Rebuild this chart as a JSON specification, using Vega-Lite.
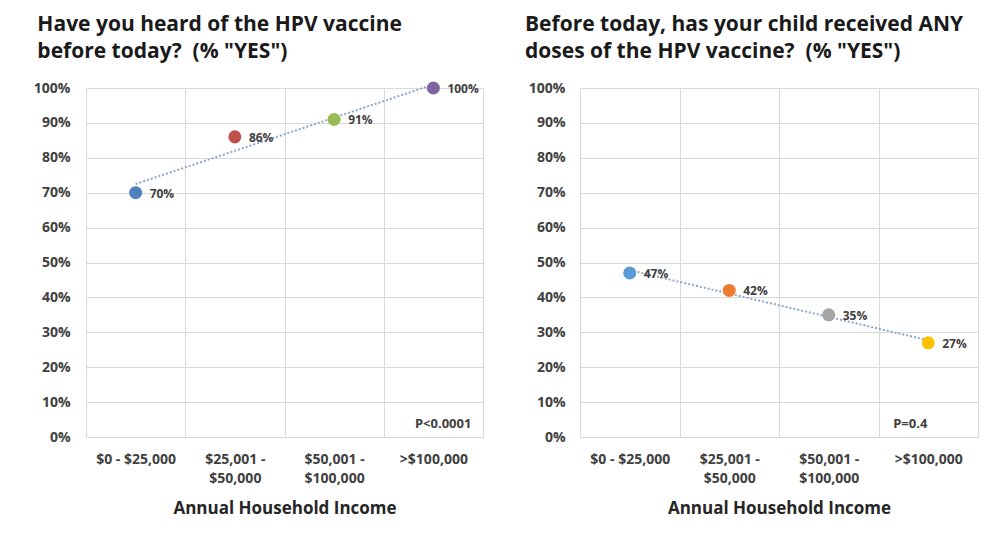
{
  "$schema": "https://vega.github.io/schema/vega-lite/v6.json",
  "background": "white",
  "padding": {"left": 33, "top": 13, "right": 5, "bottom": 5},
  "spacing": 38,
  "config": {
    "font": "Open Sans",
    "view": {"stroke": null},
    "axis": {
      "labelFont": "Open Sans",
      "labelFontWeight": "bold",
      "labelColor": "#404040",
      "labelFontSize": 14,
      "gridColor": "#D9D9D9",
      "gridWidth": 1,
      "ticks": false,
      "domain": false,
      "titleFont": "Open Sans",
      "titleFontWeight": "bold",
      "titleColor": "#262626",
      "titleFontSize": 17
    },
    "title": {
      "font": "Open Sans",
      "fontSize": 21,
      "fontWeight": "bold",
      "color": "#1a1a1a",
      "anchor": "start",
      "frame": "bounds",
      "lineHeight": 27,
      "offset": 19,
      "dx": 4
    }
  },
  "datasets": {
    "heard": [
      {"income": "$0 - $25,000", "idx": 1, "pct": 0.70},
      {"income": "$25,001 - $50,000", "idx": 2, "pct": 0.86},
      {"income": "$50,001 - $100,000", "idx": 3, "pct": 0.91},
      {"income": ">$100,000", "idx": 4, "pct": 1.00}
    ],
    "doses": [
      {"income": "$0 - $25,000", "idx": 1, "pct": 0.47},
      {"income": "$25,001 - $50,000", "idx": 2, "pct": 0.42},
      {"income": "$50,001 - $100,000", "idx": 3, "pct": 0.35},
      {"income": ">$100,000", "idx": 4, "pct": 0.27}
    ]
  },
  "hconcat": [
    {
      "title": {"text": ["Have you heard of the HPV vaccine", "before today?\u00a0 (% \"YES\")"]},
      "width": 397,
      "height": 349,
      "data": {"name": "heard"},
      "encoding": {
        "x": {
          "field": "income", "type": "nominal",
          "scale": {"type": "band", "domain": ["$0 - $25,000", "$25,001 - $50,000", "$50,001 - $100,000", ">$100,000"], "paddingInner": 0, "paddingOuter": 0},
          "axis": {
            "grid": true, "tickBand": "extent", "labelAngle": 0, "labelPadding": 15, "labelLineHeight": 19,
            "labelExpr": "indexof(datum.label, ' - ') > 0 && datum.label != '$0 - $25,000' ? [split(datum.label, ' - ')[0] + ' -', split(datum.label, ' - ')[1]] : datum.label",
            "title": "Annual Household Income", "titlePadding": 15
          }
        },
        "y": {
          "field": "pct", "type": "quantitative",
          "scale": {"domain": [0, 1], "nice": false, "zero": true},
          "axis": {"values": [0, 0.1, 0.2, 0.3, 0.4, 0.5, 0.6, 0.7, 0.8, 0.9, 1], "format": ".0%", "grid": true, "title": null, "labelPadding": 16, "minExtent": 50, "maxExtent": 50}
        }
      },
      "layer": [
        {
          "transform": [
            {"regression": "pct", "on": "idx"},
            {"lookup": "idx", "from": {"data": {"name": "heard"}, "key": "idx", "fields": ["income"]}}
          ],
          "mark": {"type": "line", "color": "#8CA6C4", "strokeWidth": 2, "strokeDash": [2, 2]}
        },
        {
          "mark": {"type": "circle", "size": 170, "opacity": 1},
          "encoding": {
            "color": {"field": "income", "type": "nominal", "legend": null,
              "scale": {"domain": ["$0 - $25,000", "$25,001 - $50,000", "$50,001 - $100,000", ">$100,000"], "range": ["#4F81BD", "#C0504D", "#9BBB59", "#8064A2"]}}
          }
        },
        {
          "mark": {"type": "text", "align": "left", "baseline": "middle", "dx": 14, "dy": 1, "fontSize": 12, "fontWeight": "bold", "color": "#404040"},
          "encoding": {"text": {"field": "pct", "type": "quantitative", "format": ".0%"}}
        },
        {
          "data": {"values": [{"income": ">$100,000", "pct": 0.037, "note": "P<0.0001"}]},
          "mark": {"type": "text", "align": "right", "baseline": "middle", "dx": 38, "fontSize": 13, "fontWeight": "bold", "color": "#404040"},
          "encoding": {"text": {"field": "note", "type": "nominal"}}
        }
      ]
    },
    {
      "title": {"text": ["Before today, has your child received ANY", "doses of the HPV vaccine?\u00a0 (% \"YES\")"]},
      "width": 398,
      "height": 349,
      "data": {"name": "doses"},
      "encoding": {
        "x": {
          "field": "income", "type": "nominal",
          "scale": {"type": "band", "domain": ["$0 - $25,000", "$25,001 - $50,000", "$50,001 - $100,000", ">$100,000"], "paddingInner": 0, "paddingOuter": 0},
          "axis": {
            "grid": true, "tickBand": "extent", "labelAngle": 0, "labelPadding": 15, "labelLineHeight": 19,
            "labelExpr": "indexof(datum.label, ' - ') > 0 && datum.label != '$0 - $25,000' ? [split(datum.label, ' - ')[0] + ' -', split(datum.label, ' - ')[1]] : datum.label",
            "title": "Annual Household Income", "titlePadding": 15
          }
        },
        "y": {
          "field": "pct", "type": "quantitative",
          "scale": {"domain": [0, 1], "nice": false, "zero": true},
          "axis": {"values": [0, 0.1, 0.2, 0.3, 0.4, 0.5, 0.6, 0.7, 0.8, 0.9, 1], "format": ".0%", "grid": true, "title": null, "labelPadding": 15, "minExtent": 59, "maxExtent": 59}
        }
      },
      "layer": [
        {
          "transform": [
            {"regression": "pct", "on": "idx"},
            {"lookup": "idx", "from": {"data": {"name": "doses"}, "key": "idx", "fields": ["income"]}}
          ],
          "mark": {"type": "line", "color": "#8CA6C4", "strokeWidth": 2, "strokeDash": [2, 2]}
        },
        {
          "mark": {"type": "circle", "size": 170, "opacity": 1},
          "encoding": {
            "color": {"field": "income", "type": "nominal", "legend": null,
              "scale": {"domain": ["$0 - $25,000", "$25,001 - $50,000", "$50,001 - $100,000", ">$100,000"], "range": ["#5B9BD5", "#ED7D31", "#A5A5A5", "#FFC000"]}}
          }
        },
        {
          "mark": {"type": "text", "align": "left", "baseline": "middle", "dx": 14, "dy": 1, "fontSize": 12, "fontWeight": "bold", "color": "#404040"},
          "encoding": {"text": {"field": "pct", "type": "quantitative", "format": ".0%"}}
        },
        {
          "data": {"values": [{"income": ">$100,000", "pct": 0.037, "note": "P=0.4"}]},
          "mark": {"type": "text", "align": "center", "baseline": "middle", "dx": -18, "fontSize": 13, "fontWeight": "bold", "color": "#404040"},
          "encoding": {"text": {"field": "note", "type": "nominal"}}
        }
      ]
    }
  ],
  "resolve": {"scale": {"color": "independent"}}
}
